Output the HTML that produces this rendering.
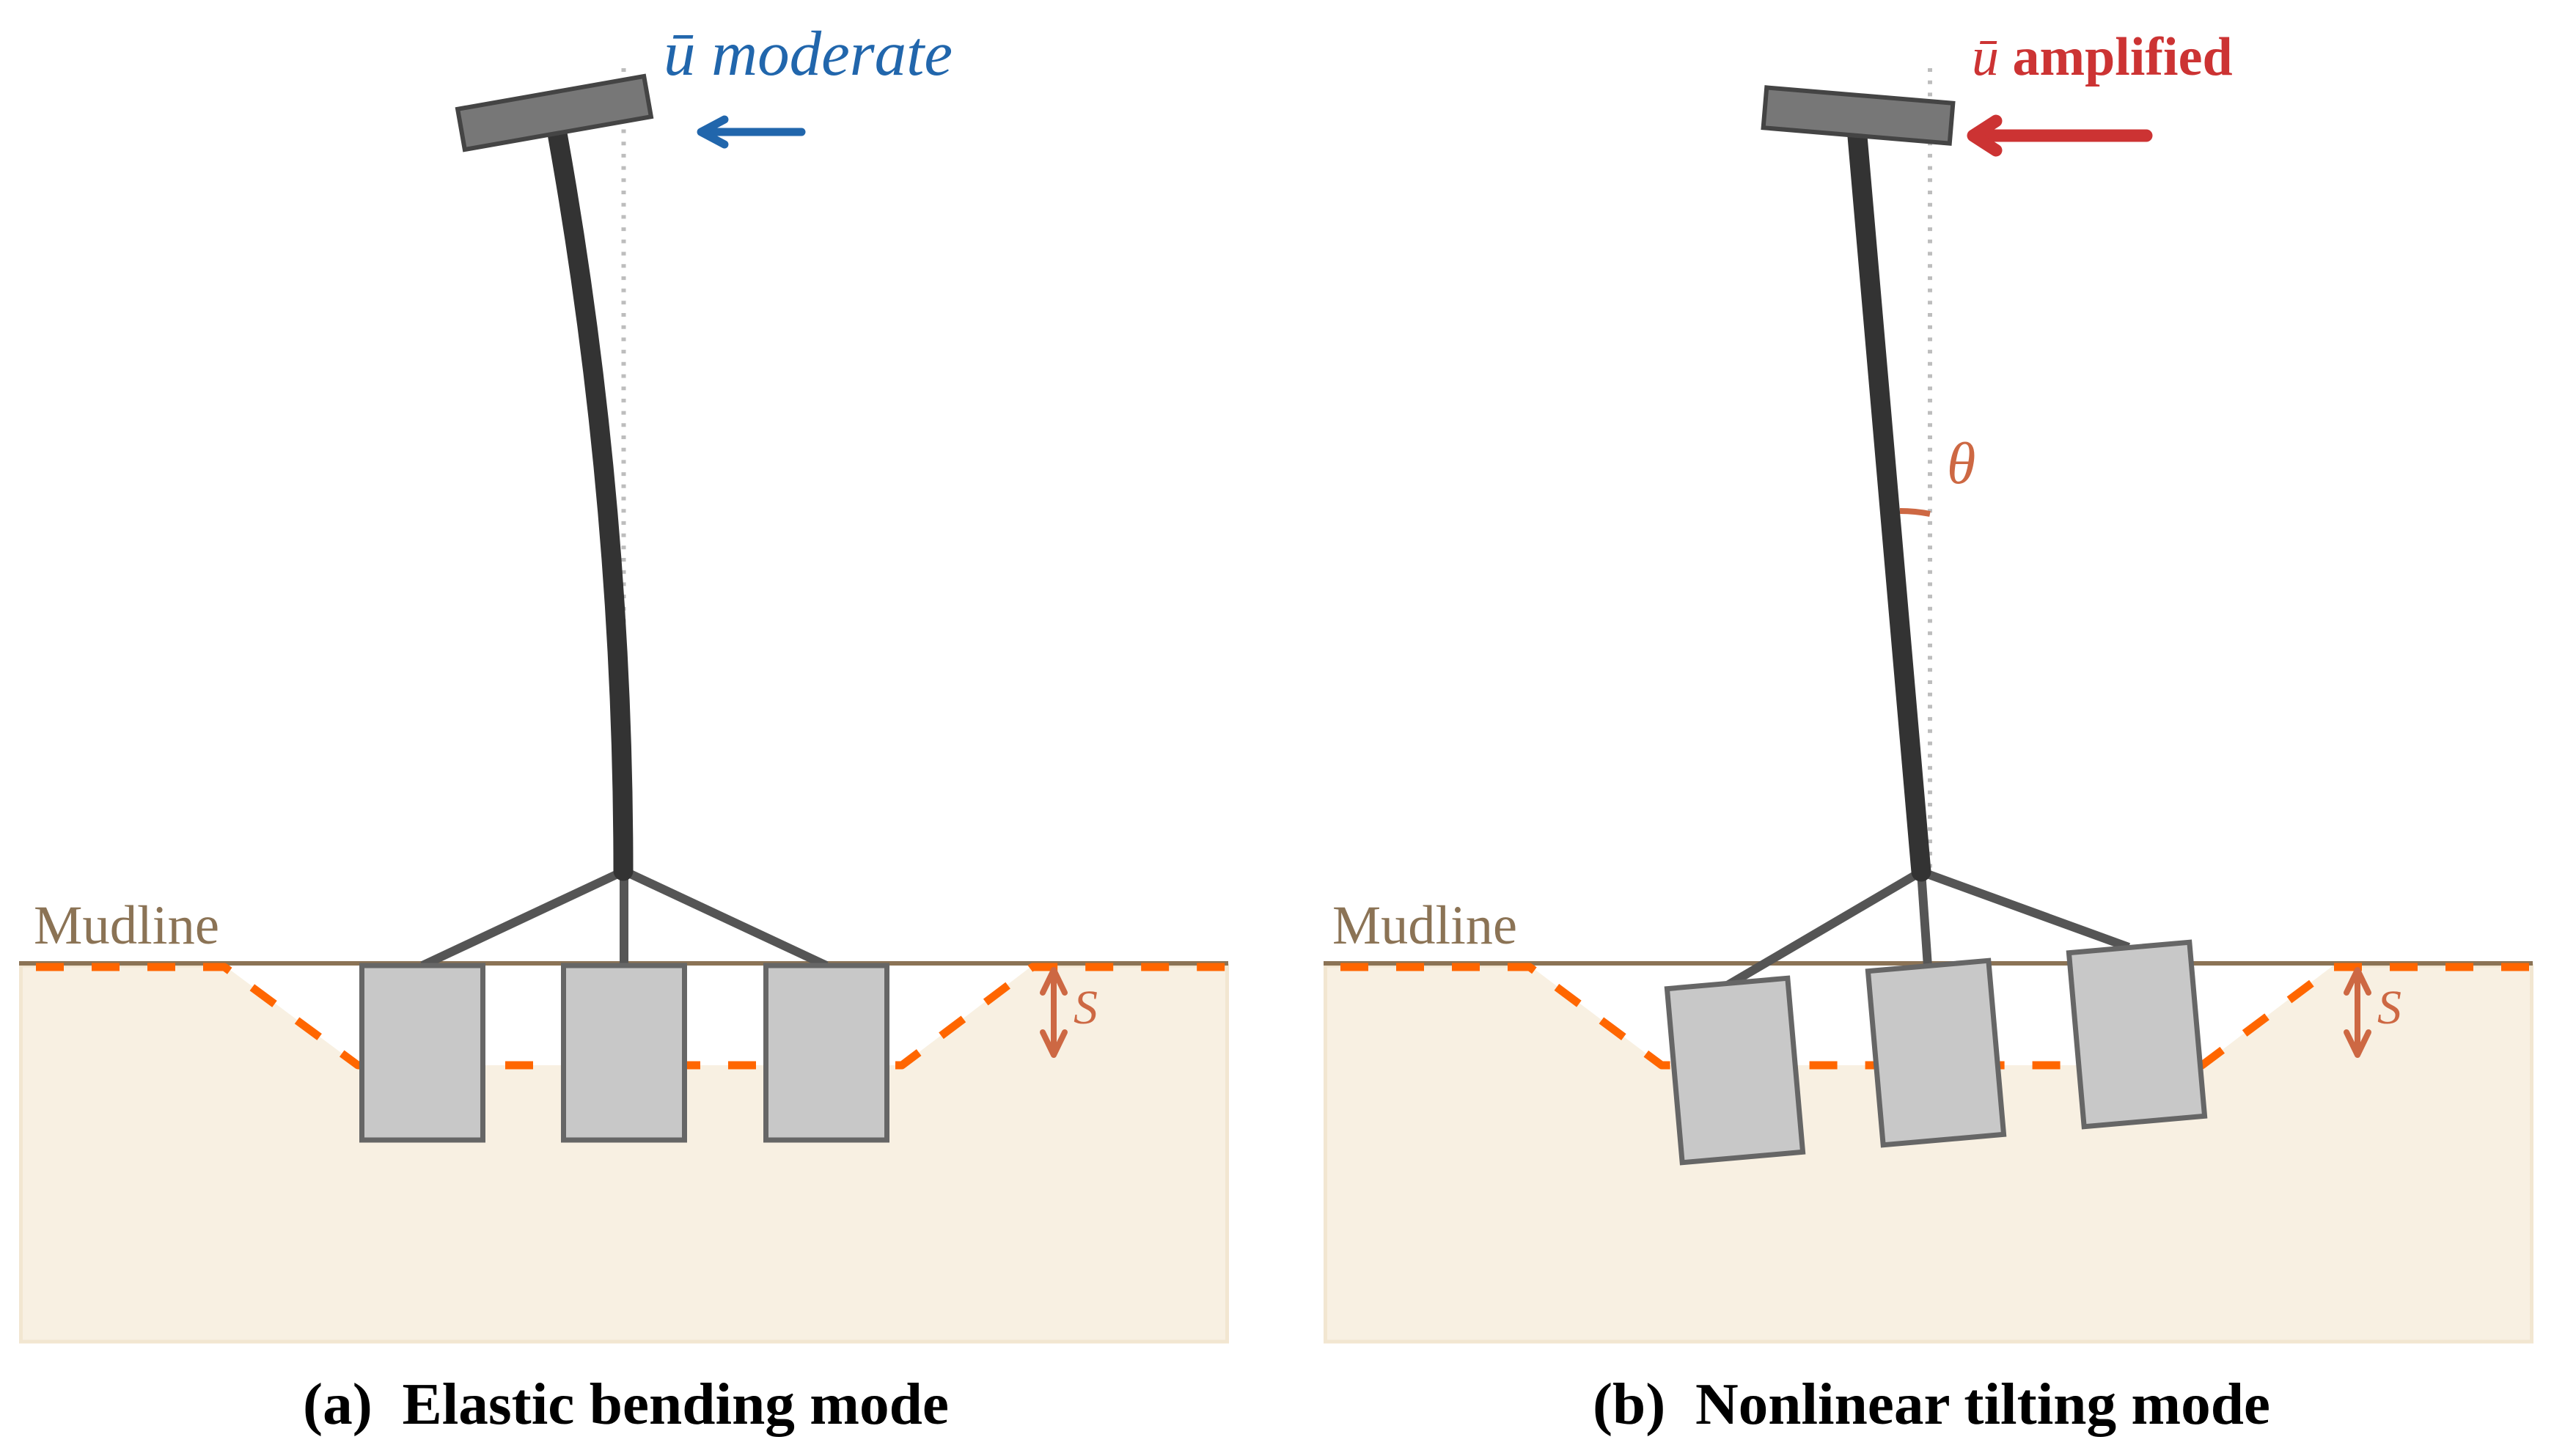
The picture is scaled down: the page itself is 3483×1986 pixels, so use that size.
<!DOCTYPE html>
<html><head><meta charset="utf-8"><style>
html,body{margin:0;padding:0;background:#fff;}
svg{display:block;}
text{font-family:"Liberation Serif","DejaVu Serif",serif;}
</style></head><body>
<svg xmlns="http://www.w3.org/2000/svg" width="3483" height="1986" viewBox="0 0 3483 1986">
<rect x="0" y="0" width="3483" height="1986" fill="#fff"/>

<!-- ============ PANEL A ============ -->
<rect x="28.5" y="1317" width="1645" height="513" fill="#F8F0E2" stroke="#F2E6D1" stroke-width="5"/>
<polygon points="306,1317 488,1453 1230,1453 1408,1317" fill="#fff"/>
<line x1="26" y1="1314" x2="1675" y2="1314" stroke="#8B7355" stroke-width="6"/>
<path d="M27 1319 L306 1319 L488 1453 L1230 1453 L1408 1319 L1675 1319" fill="none" stroke="#FF6600" stroke-width="11" stroke-dasharray="38 38" stroke-dashoffset="54" stroke-linejoin="round"/>
<text x="46" y="1287" font-size="75" fill="#8B7355" textLength="253" lengthAdjust="spacingAndGlyphs">Mudline</text>

<!-- dotted vertical -->
<line x1="850.5" y1="93" x2="850.5" y2="1188" stroke="#BDBDBD" stroke-width="6" stroke-dasharray="5 11.7"/>

<!-- legs -->
<g stroke="#555" stroke-width="12" stroke-linecap="butt">
<line x1="851" y1="1188" x2="576" y2="1317"/>
<line x1="851" y1="1188" x2="851" y2="1317"/>
<line x1="851" y1="1188" x2="1127" y2="1317"/>
</g>
<!-- boxes -->
<g fill="#C8C8C8" stroke="#666" stroke-width="7">
<rect x="493.5" y="1317" width="165" height="238"/>
<rect x="768.5" y="1317" width="165" height="238"/>
<rect x="1044.5" y="1317" width="165" height="238"/>
</g>
<!-- tower curved -->
<path d="M850 1188 Q850 684 760 182" fill="none" stroke="#333" stroke-width="27" stroke-linecap="round"/>
<!-- nacelle -->
<g transform="translate(756,154) rotate(-10)">
<rect x="-129" y="-28" width="258" height="56" fill="#777" stroke="#444" stroke-width="6"/>
</g>
<!-- blue arrow -->
<g stroke="#2166AC" stroke-width="11" stroke-linecap="round" stroke-linejoin="round" fill="none">
<line x1="958" y1="180" x2="1093" y2="180"/>
<polyline points="988,163 956,180 988,197"/>
</g>
<text x="905" y="102" font-size="87" font-style="italic" fill="#2166AC" textLength="394" lengthAdjust="spacingAndGlyphs">ū moderate</text>

<!-- S arrow a -->
<g stroke="#CD6843" stroke-width="8" stroke-linecap="round" stroke-linejoin="round" fill="none">
<line x1="1437" y1="1325" x2="1437" y2="1437"/>
<polyline points="1422,1354 1437,1323 1452,1354"/>
<polyline points="1422,1408 1437,1439 1452,1408"/>
</g>
<text x="1464" y="1396" font-size="66" font-style="italic" fill="#CD6843">S</text>

<text x="413" y="1942" font-size="81" font-weight="bold" fill="#000" textLength="881" lengthAdjust="spacingAndGlyphs">(a)&#160; Elastic bending mode</text>

<!-- ============ PANEL B ============ -->
<rect x="1807.5" y="1317" width="1645" height="513" fill="#F8F0E2" stroke="#F2E6D1" stroke-width="5"/>
<polygon points="2086,1317 2266,1453 3003,1453 3182,1317" fill="#fff"/>
<line x1="1805" y1="1314" x2="3454" y2="1314" stroke="#8B7355" stroke-width="6"/>
<path d="M1806 1319 L2086 1319 L2266 1453 L3003 1453 L3182 1319 L3454 1319" fill="none" stroke="#FF6600" stroke-width="11" stroke-dasharray="38 38" stroke-dashoffset="54" stroke-linejoin="round"/>
<text x="1817" y="1287" font-size="75" fill="#8B7355" textLength="252" lengthAdjust="spacingAndGlyphs">Mudline</text>

<line x1="2632" y1="93" x2="2632" y2="1189" stroke="#BDBDBD" stroke-width="6" stroke-dasharray="5 11.7"/>

<g stroke="#555" stroke-width="12" stroke-linecap="butt">
<line x1="2620" y1="1189" x2="2354" y2="1345"/>
<line x1="2620" y1="1189" x2="2629" y2="1318"/>
<line x1="2620" y1="1189" x2="2903" y2="1292"/>
</g>
<g fill="#C8C8C8" stroke="#666" stroke-width="7">
<g transform="translate(2366,1460) rotate(-5)"><rect x="-82.5" y="-119" width="165" height="238"/></g>
<g transform="translate(2640,1436) rotate(-5)"><rect x="-82.5" y="-119" width="165" height="238"/></g>
<g transform="translate(2914,1411) rotate(-5)"><rect x="-82.5" y="-119" width="165" height="238"/></g>
</g>
<!-- tower straight tilted -->
<line x1="2620" y1="1189" x2="2533" y2="186" stroke="#333" stroke-width="27" stroke-linecap="round"/>
<!-- theta arc -->
<path d="M2591 697 Q2612 697 2632 701" fill="none" stroke="#CD6843" stroke-width="8"/>
<text x="2655" y="659" font-size="80" font-style="italic" fill="#CD6843">θ</text>
<!-- nacelle -->
<g transform="translate(2534,157.5) rotate(4.8)">
<rect x="-127.5" y="-27.5" width="255" height="55" fill="#777" stroke="#444" stroke-width="6"/>
</g>
<!-- red arrow -->
<g stroke="#CC3333" stroke-width="17" stroke-linecap="round" stroke-linejoin="round" fill="none">
<line x1="2692" y1="185" x2="2927" y2="185"/>
<polyline points="2722,165 2691,185 2722,205"/>
</g>
<text x="2689" y="102" font-size="74" fill="#CC3333"><tspan font-style="italic">ū</tspan> <tspan font-weight="bold">amplified</tspan></text>

<!-- S arrow b -->
<g stroke="#CD6843" stroke-width="8" stroke-linecap="round" stroke-linejoin="round" fill="none">
<line x1="3215" y1="1325" x2="3215" y2="1437"/>
<polyline points="3200,1354 3215,1323 3230,1354"/>
<polyline points="3200,1408 3215,1439 3230,1408"/>
</g>
<text x="3242" y="1396" font-size="66" font-style="italic" fill="#CD6843">S</text>

<text x="2172" y="1942" font-size="81" font-weight="bold" fill="#000" textLength="924" lengthAdjust="spacingAndGlyphs">(b)&#160; Nonlinear tilting mode</text>
</svg>
</body></html>
